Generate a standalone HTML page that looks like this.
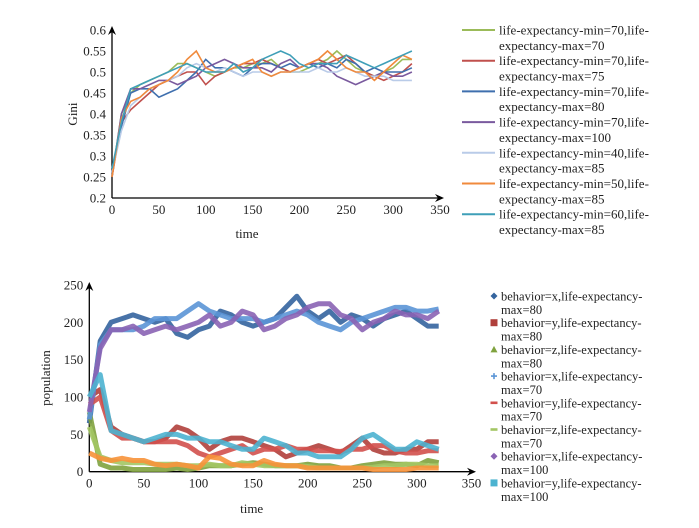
<!DOCTYPE html>
<html><head><meta charset="utf-8"><style>
body{margin:0;background:#fff;}
svg{display:block;font-family:"Liberation Serif",serif;}
</style></head><body>
<svg id="c" width="699" height="528"></svg>
<script>
const times=[0,10,20,30,40,50,60,70,80,90,100,110,120,130,140,150,160,170,180,190,200,210,220,230,240,250,260,270,280,290,300,310,320];
const giniTicks=[0.2,0.25,0.3,0.35,0.4,0.45,0.5,0.55,0.6];
const timeTicks=[0,50,100,150,200,250,300,350];
const popTicks=[0,50,100,150,200,250];
const giniNames=["life-expectancy-min=70,life-|expectancy-max=70","life-expectancy-min=70,life-|expectancy-max=75","life-expectancy-min=70,life-|expectancy-max=80","life-expectancy-min=70,life-|expectancy-max=100","life-expectancy-min=40,life-|expectancy-max=85","life-expectancy-min=50,life-|expectancy-max=85","life-expectancy-min=60,life-|expectancy-max=85"];
const g1=[.25,.40,.45,.47,.48,.49,.50,.52,.52,.51,.50,.49,.50,.51,.51,.52,.52,.53,.51,.50,.50,.51,.52,.53,.55,.53,.51,.50,.49,.50,.51,.53,.53];
const g2=[.25,.38,.41,.43,.45,.47,.48,.49,.50,.50,.47,.49,.50,.51,.52,.52,.53,.52,.51,.50,.51,.52,.53,.52,.53,.54,.52,.50,.49,.48,.49,.50,.52];
const g3=[.26,.37,.45,.46,.46,.44,.45,.46,.48,.50,.53,.51,.51,.50,.49,.51,.52,.52,.51,.52,.51,.52,.51,.52,.51,.53,.52,.50,.51,.50,.50,.50,.51];
const g4=[.25,.40,.46,.46,.47,.48,.48,.47,.48,.49,.51,.52,.53,.52,.51,.51,.51,.50,.52,.53,.51,.52,.52,.51,.49,.48,.47,.48,.49,.50,.49,.49,.50];
const g5=[.26,.36,.42,.44,.46,.47,.48,.49,.51,.52,.51,.50,.51,.50,.49,.50,.50,.49,.50,.50,.50,.50,.51,.50,.50,.51,.50,.49,.49,.49,.48,.48,.48];
const g6=[.25,.39,.43,.44,.46,.47,.48,.50,.53,.55,.51,.50,.50,.51,.52,.53,.50,.49,.50,.50,.51,.52,.53,.55,.53,.51,.50,.50,.48,.50,.52,.54,.53];
const g7=[.27,.38,.46,.47,.48,.49,.50,.51,.52,.51,.50,.50,.50,.52,.50,.51,.53,.54,.55,.54,.52,.51,.52,.52,.52,.54,.53,.52,.51,.52,.53,.54,.55];
const giniSeries=[g1,g2,g3,g4,g5,g6,g7];
const giniColors=["#9bbb59","#c0504d","#3f6fae","#7a5a9e","#b9cbe8","#f08a3c","#3f9fb8"];

const popNames=["behavior=x,life-expectancy-|max=80","behavior=y,life-expectancy-|max=80","behavior=z,life-expectancy-|max=80","behavior=x,life-expectancy-|max=70","behavior=y,life-expectancy-|max=70","behavior=z,life-expectancy-|max=70","behavior=x,life-expectancy-|max=100","behavior=y,life-expectancy-|max=100"];
const p1=[65,175,200,205,210,205,200,205,185,180,190,195,215,210,200,195,200,205,220,235,215,205,215,200,210,205,195,205,210,215,205,195,195];
const p2=[100,110,60,50,45,40,40,45,60,55,45,30,40,45,45,40,35,30,20,25,30,35,30,25,35,45,30,25,25,30,30,40,40];
const p3=[80,10,5,5,3,3,3,3,5,3,5,8,8,8,10,12,10,8,8,8,10,8,8,5,5,8,10,12,10,10,8,15,12];
const p4=[70,170,190,190,190,195,205,205,205,215,225,215,210,205,205,205,200,205,210,215,210,200,195,190,200,205,210,215,220,220,215,215,218];
const p5=[90,100,55,45,45,40,40,40,40,35,25,20,25,30,35,25,30,30,35,30,30,28,28,27,30,30,35,35,28,25,25,28,28];
const p6=[60,20,15,12,12,12,10,10,10,8,8,10,8,8,12,10,8,8,8,8,7,5,5,5,5,5,6,8,8,10,10,8,8];
const p7=[80,165,190,190,195,185,190,195,190,195,200,210,195,200,215,210,190,195,205,210,220,225,225,210,205,190,200,205,215,210,210,205,215];
const p8=[100,130,55,50,45,40,45,50,50,45,45,40,40,35,30,30,45,40,35,25,25,20,20,20,30,45,50,40,30,30,40,35,30];
const p9=[25,18,15,18,15,15,10,8,10,8,5,20,18,10,8,8,15,10,8,8,5,5,5,5,5,5,3,3,3,3,5,5,5];
const popSeries=[p1,p2,p3,p4,p5,p6,p7,p8,p9];
const popColors=["#34649e","#b0403c","#7fa23e","#5b95d6","#d2504c","#a3c664","#8a63b4","#4cb3d0","#f7923a"];
const popMarkers=["diamond","square","triangle","plus","dash","dash","diamond","square","triangle"];

const NS="http://www.w3.org/2000/svg";
const svg=document.getElementById('c');
function mk(t,a,p){const e=document.createElementNS(NS,t);for(const k in a)e.setAttribute(k,a[k]);(p||svg).appendChild(e);return e;}
// top axes
const tx=v=>112+v*(328/350), ty=v=>198-(v-0.2)*(168/0.4);
const bx=v=>89.3+v*(382.2/350), by=v=>471.7-v*(186.7/250);

function axes(name,xf,yf,xt,yt,x0,y0,xEnd,yTop,fmt,ylabel,ylx,yly,tlabY){
  const g=mk('g',{});
  
  
  mk('line',{x1:x0,y1:y0,x2:xEnd,y2:y0,stroke:'#000','stroke-width':1.3},g);
  mk('line',{x1:x0,y1:y0,x2:x0,y2:yTop,stroke:'#000','stroke-width':1.3},g);
  mk('path',{d:`M${xEnd+2},${y0} l-9,-4 l3,4 l-3,4z`,fill:'#000'},g);
  mk('path',{d:`M${x0},${yTop-2} l-4,9 l4,-3 l4,3z`,fill:'#000'},g);
  xt.forEach(v=>{const t=mk('text',{x:xf(v),y:y0+16,'text-anchor':'middle','font-size':13,fill:'#222'},g);t.textContent=v;
    });
  yt.forEach(v=>{const t=mk('text',{x:x0-6,y:yf(v)+4.5,'text-anchor':'end','font-size':13,fill:'#222'},g);t.textContent=fmt(v);
    });
  const xl=mk('text',{x:xf(0)+(xEnd-x0)/2-30,y:tlabY,'text-anchor':'middle','font-size':13,fill:'#222'},g);xl.textContent='time';
  
  const yl=mk('text',{x:ylx,y:yly,'text-anchor':'middle','font-size':13,fill:'#222',transform:`rotate(-90 ${ylx} ${yly})`},g);yl.textContent=ylabel;
  
}
axes('gini-axes',tx,ty,timeTicks,giniTicks,112,198,442,28,v=>String(+v.toFixed(2)),'Gini',77,114,238);
axes('population-axes',bx,by,timeTicks,popTicks,89.3,471.7,474,284,v=>String(v),'population',50,378,513);

// gini lines
giniSeries.forEach((s,i)=>{
  const d=s.map((v,j)=>(j?'L':'M')+tx(times[j]).toFixed(1)+','+ty(v).toFixed(1)).join('');
  const p=mk('path',{d:d,fill:'none',stroke:giniColors[i],'stroke-width':1.6});
  
  
});
// population bands
popSeries.forEach((s,i)=>{
  const d=s.map((v,j)=>(j?'L':'M')+bx(times[j]).toFixed(1)+','+by(v).toFixed(1)).join('');
  const p=mk('path',{d:d,fill:'none',stroke:popColors[i],'stroke-width':5,'stroke-linejoin':'round',opacity:0.9});
  
  
});

function marker(type,x,y,c,g){
  if(type==='diamond')mk('path',{d:`M${x},${y-3.5}l3.5,3.5l-3.5,3.5l-3.5,-3.5z`,fill:c},g);
  else if(type==='square')mk('rect',{x:x-3.5,y:y-3.5,width:7,height:7,fill:c},g);
  else if(type==='triangle')mk('path',{d:`M${x},${y-3.5}l3.5,6.5h-7z`,fill:c},g);
  else if(type==='plus')mk('path',{d:`M${x-3},${y}h6M${x},${y-3}v6`,stroke:c,'stroke-width':1.6},g);
  else mk('rect',{x:x-3.5,y:y-1.3,width:7,height:2.6,fill:c},g);
}
// top legend
giniNames.forEach((n,i)=>{
  const g=mk('g',{});
  
  
  const y=30+i*30.7;
  mk('line',{x1:462,y1:y,x2:495,y2:y,stroke:giniColors[i],'stroke-width':2},g);
  const [a,b]=n.split('|');
  const t1=mk('text',{x:499,y:y+4.5,'font-size':13,fill:'#222'},g);t1.textContent=a;
  const t2=mk('text',{x:499,y:y+19.8,'font-size':13,fill:'#222'},g);t2.textContent=b;
});
// bottom legend
popNames.forEach((n,i)=>{
  const g=mk('g',{});
  
  
  const y=296+i*26.7;
  marker(popMarkers[i],494,y,popColors[i],g);
  const [a,b]=n.split('|');
  const t1=mk('text',{x:501,y:y+4.5,'font-size':12.5,fill:'#222'},g);t1.textContent=a;
  const t2=mk('text',{x:501,y:y+17.9,'font-size':12.5,fill:'#222'},g);t2.textContent=b;
});
</script>
</body></html>
